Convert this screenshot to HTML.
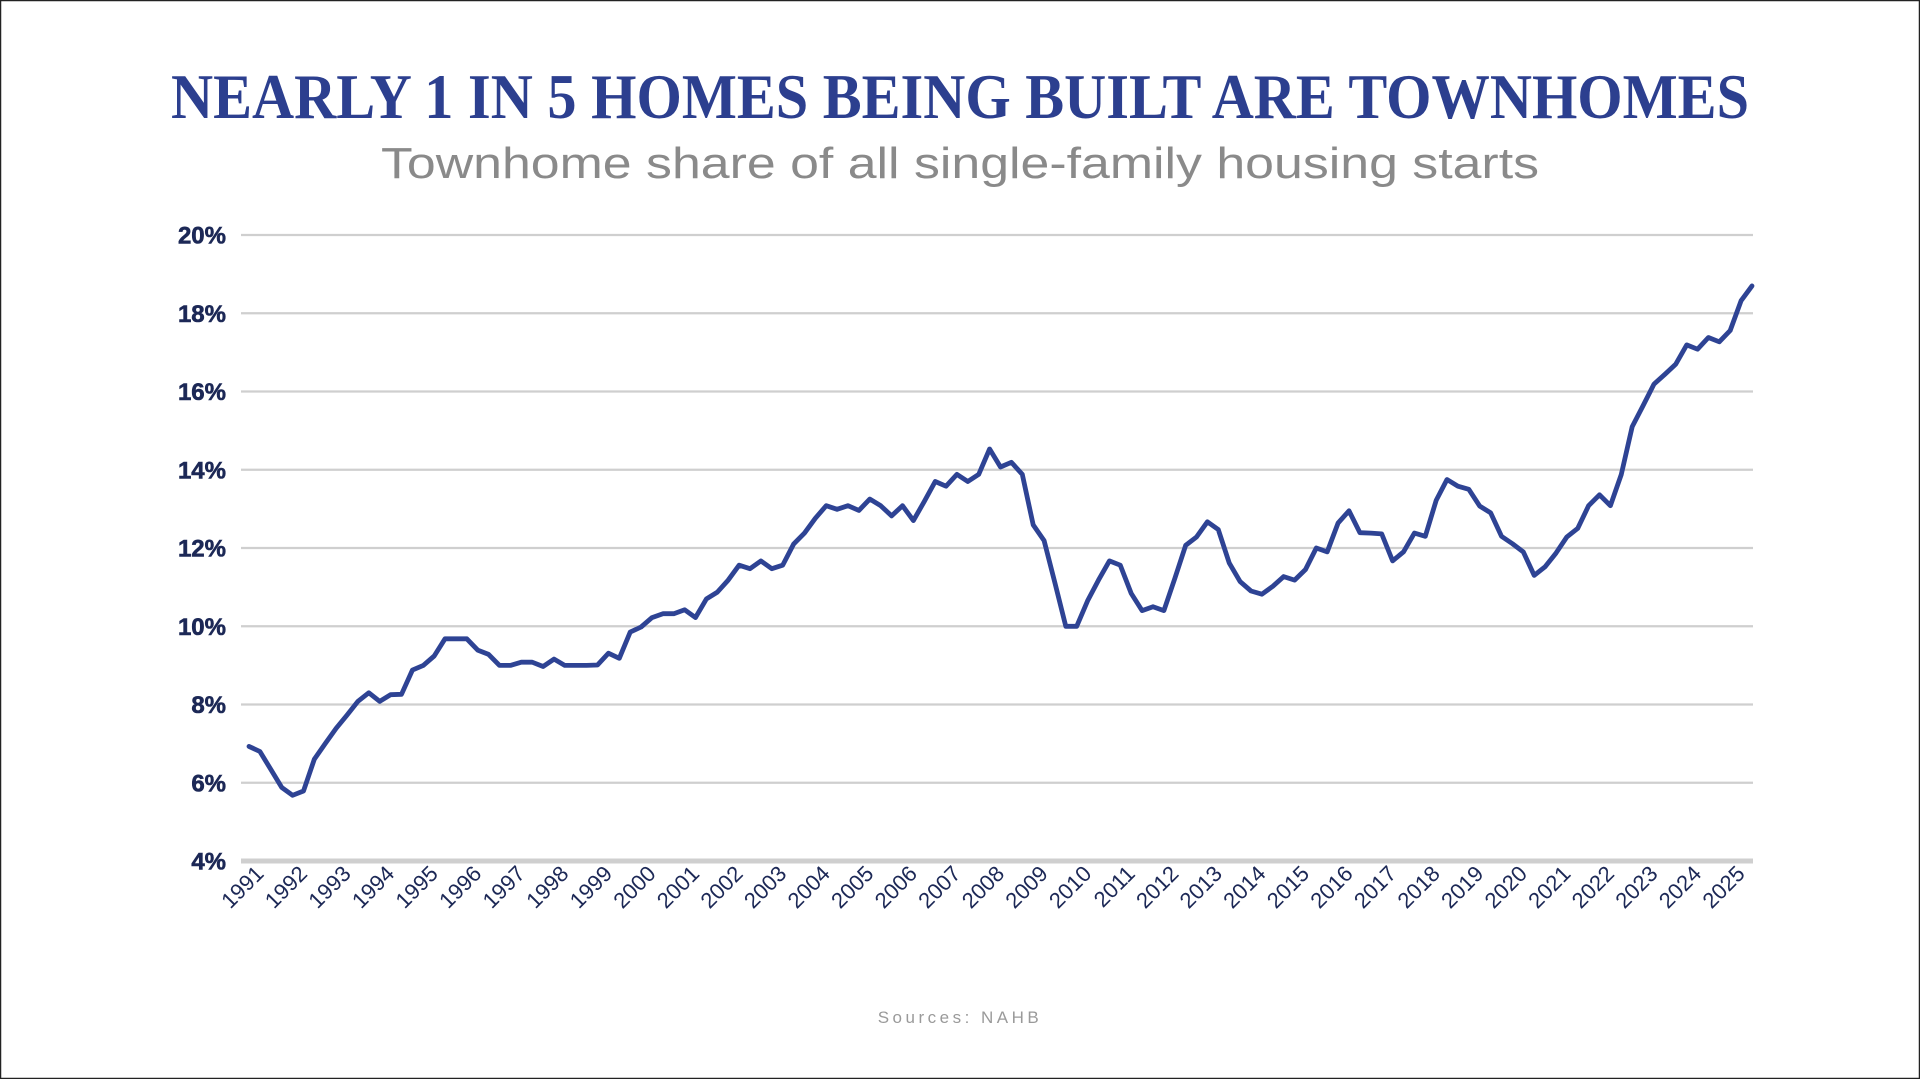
<!DOCTYPE html>
<html><head><meta charset="utf-8"><style>
html,body{margin:0;padding:0;background:#fff;}
svg{display:block;}
</style></head><body>
<svg id="chart" width="1920" height="1079" viewBox="0 0 1920 1079" xmlns="http://www.w3.org/2000/svg">
<rect x="0.5" y="0.5" width="1919" height="1078" fill="#fff" stroke="#222" stroke-width="1.5"/>
<text x="960" y="118" text-anchor="middle" textLength="1578" lengthAdjust="spacingAndGlyphs" font-family="Liberation Serif, serif" font-weight="bold" font-size="64" fill="#2c3f8f">NEARLY 1 IN 5 HOMES BEING BUILT ARE TOWNHOMES</text>
<text x="960" y="178" text-anchor="middle" textLength="1158" lengthAdjust="spacingAndGlyphs" font-family="Liberation Sans, sans-serif" font-size="44" fill="#8a8a8a">Townhome share of all single-family housing starts</text>
<g id="grid"></g>
<g id="ylabels"></g>
<g id="xlabels"></g>
<g id="series"></g>
<text x="960" y="1023" text-anchor="middle" font-family="Liberation Sans, sans-serif" font-size="17" letter-spacing="3.5" fill="#9a9a9a">Sources: NAHB</text>
</svg>
<script>
const years = [1991,1992,1993,1994,1995,1996,1997,1998,1999,2000,2001,2002,2003,2004,2005,2006,2007,2008,2009,2010,2011,2012,2013,2014,2015,2016,2017,2018,2019,2020,2021,2022,2023,2024,2025];
const yTicks = [4,6,8,10,12,14,16,18,20];
const shareValues = [
6.93,6.80,6.34,5.88,5.68,5.79,6.6,7.0,7.39,7.73,8.08,8.30,8.08,8.25,8.26,8.88,9.0,9.24,9.68,9.68,9.68,9.39,9.28,9.0,9.0,9.08,9.08,8.97,9.16,9.0,9.0,9.0,9.01,9.31,9.18,9.85,9.98,10.22,10.32,10.32,10.42,10.22,10.70,10.87,11.18,11.56,11.47,11.67,
11.47,11.56,12.10,12.38,12.76,13.08,12.99,13.08,12.96,13.25,13.08,12.82,13.08,12.70,13.19,13.70,13.58,13.88,13.70,13.88,14.53,14.07,14.19,13.88,12.59,12.19,11.10,10.0,10.0,10.65,11.18,11.67,11.56,10.84,10.40,10.50,10.40,11.22,12.07,12.28,12.67,12.47,11.62,11.14,10.90,10.82,11.02,11.27,11.18,11.45,12.0,11.90,12.64,
12.95,12.39,12.38,12.36,11.67,11.90,12.38,12.30,13.22,13.75,13.58,13.50,13.07,12.90,12.30,12.11,11.90,11.30,11.52,11.87,12.28,12.50,13.08,13.36,13.08,13.88,15.10,15.64,16.19,16.44,16.70,17.19,17.08,17.38,17.27,17.56,18.32,18.70
];
const NS='http://www.w3.org/2000/svg';
const x0=249, x1=1752, gx0=241, gx1=1753;
const yTop=235, yBot=861;
function yScale(v){return yBot-(v-4)/16*(yBot-yTop);}
function xScale(i){return x0+i*(x1-x0)/(shareValues.length-1);}
function mk(tag,attrs,parent){const e=document.createElementNS(NS,tag);for(const k in attrs)e.setAttribute(k,attrs[k]);parent.appendChild(e);return e;}
const grid=document.getElementById('grid'), yl=document.getElementById('ylabels'), xl=document.getElementById('xlabels'), ser=document.getElementById('series');
yTicks.forEach(t=>{
  const y=yScale(t);
  const l=mk('line',{x1:gx0,x2:gx1,y1:y,y2:y,stroke:'#cfcfcf','stroke-width':t===4?5:2.2},grid);
  
  
  const tx=mk('text',{x:226,y:y+8.5,'text-anchor':'end','font-family':'Liberation Sans, sans-serif','font-weight':'bold','font-size':24,'stroke':'#1c2856','stroke-width':0.6,fill:'#1c2856'},yl);
  tx.textContent=t+'%';
  
  
});
years.forEach((yr,k)=>{
  const x=xScale(k*4)+16, y=875;
  const tx=mk('text',{x:x,y:y,'text-anchor':'end','font-family':'Liberation Sans, sans-serif','font-size':22,fill:'#1c2856',transform:'rotate(-45 '+x+' '+y+')'},xl);
  tx.textContent=yr;
  
  
});
const pts=shareValues.map((v,i)=>xScale(i).toFixed(1)+','+yScale(v).toFixed(1)).join(' ');
const pl=mk('polyline',{points:pts,fill:'none',stroke:'#2e4394','stroke-width':4.8,'stroke-linejoin':'round','stroke-linecap':'round'},ser);


</script>
</body></html>
